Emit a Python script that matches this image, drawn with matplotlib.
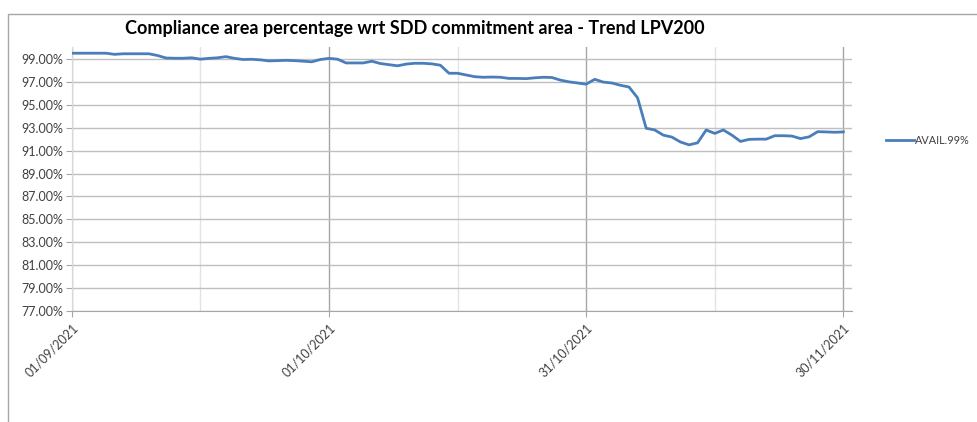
import numpy as np
import pandas as pd
import matplotlib
matplotlib.use("Agg")
import matplotlib.pyplot as plt
import matplotlib.dates as mdates
from matplotlib.patches import Rectangle
from matplotlib.ticker import FuncFormatter

# daily availability, 01/09/2021 .. 30/11/2021 (in %)
dates = pd.date_range("2021-09-01", "2021-11-30", freq="D")
avail = [
    99.50, 99.50, 99.50, 99.50, 99.50, 99.40, 99.45, 99.45, 99.45, 99.45,
    99.30, 99.08, 99.06, 99.06, 99.10, 98.98, 99.05, 99.10, 99.20, 99.05,
    98.95, 98.97, 98.92, 98.83, 98.85, 98.88, 98.85, 98.80, 98.75, 98.95,
    99.05, 98.98, 98.65, 98.65, 98.65, 98.80, 98.60, 98.50, 98.40, 98.55,
    98.62, 98.62, 98.57, 98.45, 97.75, 97.75, 97.60, 97.45, 97.40, 97.42,
    97.40, 97.30, 97.30, 97.28, 97.35, 97.40, 97.38, 97.15, 97.00, 96.90,
    96.80, 97.22, 96.98, 96.90, 96.70, 96.55, 95.60, 92.95, 92.80, 92.35,
    92.18, 91.75, 91.50, 91.68, 92.80, 92.50, 92.80, 92.35, 91.80, 91.98,
    92.00, 92.00, 92.30, 92.30, 92.27, 92.05, 92.20, 92.65, 92.63, 92.60,
    92.63,
]
series_name = "AVAIL.99%"
title = "Compliance area percentage wrt SDD commitment area - Trend LPV200"
major_ticks = pd.to_datetime(["2021-09-01", "2021-10-01", "2021-10-31", "2021-11-30"])
minor_ticks = pd.to_datetime(["2021-09-16", "2021-10-16", "2021-11-15"])

plt.rcParams["font.family"] = ["Lato", "DejaVu Sans"]

fig = plt.figure(figsize=(9.77, 4.22), dpi=100)
ax = fig.add_axes([0.0734, 0.263, 0.7986, 0.6245])

# chart frame (cropped excel chart border)
fig.patches.append(Rectangle((8 / 977, -0.1), 1.2, (422 - 14) / 422 + 0.1,
                             transform=fig.transFigure, fill=False,
                             edgecolor="#a6a6a6", linewidth=1.0))

line, = ax.plot(dates, np.array(avail) / 100, color="#4a7ebb", linewidth=2.0,
                solid_joinstyle="round", label=series_name, zorder=3)

ax.set_ylim(0.77, 1.0)
ax.set_xlim(dates[0], dates[-1] + pd.Timedelta(days=1))
ax.set_yticks(np.arange(0.77, 0.995, 0.02))
ax.yaxis.set_major_formatter(FuncFormatter(lambda v, p: "{:.2f}%".format(v * 100)))

ax.set_xticks(major_ticks)
ax.set_xticks(minor_ticks, minor=True)
ax.xaxis.set_major_formatter(mdates.DateFormatter("%d/%m/%Y"))
for lab in ax.get_xticklabels():
    lab.set_rotation(45)
    lab.set_ha("right")
    lab.set_rotation_mode("anchor")

ax.grid(axis="y", color="#bfbfbf", linewidth=1.0)
ax.grid(axis="x", which="major", color="#a6a6a6", linewidth=1.0)
ax.grid(axis="x", which="minor", color="#e3e3e3", linewidth=1.0)
ax.set_axisbelow(True)

for s in ["top", "right"]:
    ax.spines[s].set_visible(False)
ax.spines["left"].set_color("#d9d9d9")
ax.spines["bottom"].set_color("#a6a6a6")
ax.tick_params(axis="y", length=4, color="#a6a6a6", labelsize=9, labelcolor="#404040", pad=2)
ax.tick_params(axis="x", which="major", length=4, color="#a6a6a6", labelsize=9, labelcolor="#404040")
ax.tick_params(axis="x", which="minor", length=0)

fig.text(0.425, 0.932, title, ha="center", va="center", fontsize=13, fontweight="bold", color="#000000")

fig.legend(handles=[line], loc="center left", bbox_to_anchor=(0.897, 0.668),
           frameon=False, fontsize=7.8, handlelength=2.6, handletextpad=0.1,
           labelcolor="#404040")

fig.savefig("out.png", dpi=100)
